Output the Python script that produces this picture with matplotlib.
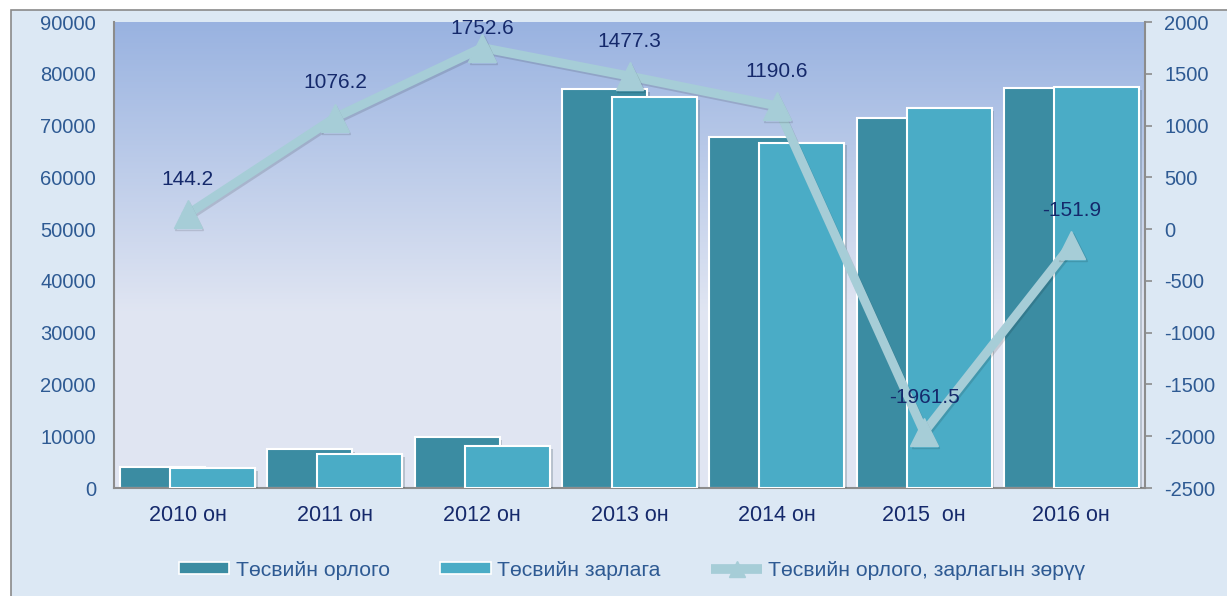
import matplotlib
matplotlib.use("Agg")
import matplotlib.pyplot as plt
import matplotlib.patheffects as pe
from matplotlib.lines import Line2D
from matplotlib.patches import Patch, Rectangle
import numpy as np

plt.rcParams["font.family"] = ["Liberation Sans", "DejaVu Sans"]
plt.rcParams["axes.unicode_minus"] = False

years = ["2010 он", "2011 он", "2012 он", "2013 он", "2014 он", "2015  он", "2016 он"]
revenue = [4050, 7550, 9850, 77050, 67850, 71450, 77250]
expense = [3850, 6550, 8100, 75550, 66700, 73400, 77450]
balance = [144.2, 1076.2, 1752.6, 1477.3, 1190.6, -1961.5, -151.9]
balance_labels = ["144.2", "1076.2", "1752.6", "1477.3", "1190.6", "-1961.5", "-151.9"]

c_dark = "#3B8CA2"
c_light = "#4AACC6"
c_line = "#A6CDD7"
c_tick = "#2E5A93"
c_text = "#15296B"

fig = plt.figure(figsize=(12.27, 5.96), dpi=100, facecolor="white")
fig.add_artist(Rectangle((11 / 1227, -0.01), 1.0, 1.01 - 10 / 596, transform=fig.transFigure,
                         facecolor="#DCE8F4", edgecolor="#8A8A8A", linewidth=1.2, zorder=-10))

ax = fig.add_axes([114 / 1227, 1 - 488 / 596, (1145 - 114) / 1227, (488 - 22) / 596])
ax.set_facecolor("none")

# plot-area gradient, blue at top fading to pale lavender
grad = np.linspace(0, 1, 256)[:, None]
top = np.array([0.60, 0.70, 0.88])
bot = np.array([0.88, 0.90, 0.95])
img = top + (bot - top) * np.clip(grad * 1.6, 0, 1)[..., None]
ax.imshow(img, extent=[0, 1, 0, 1], transform=ax.transAxes, aspect="auto", zorder=0)

x = np.arange(len(years))
w = 0.577
off = 0.17
shadow = [pe.SimplePatchShadow(offset=(2, -2), alpha=0.2), pe.Normal()]
b1 = ax.bar(x - off, revenue, w, color=c_dark, edgecolor="white", linewidth=1.5, zorder=2)
b2 = ax.bar(x + off, expense, w, color=c_light, edgecolor="white", linewidth=1.5, zorder=3)
for b in list(b1) + list(b2):
    b.set_path_effects(shadow)

ax.set_xlim(-0.5, len(years) - 0.5)
ax.set_ylim(0, 90000)
ax.set_yticks(np.arange(0, 90001, 10000))
ax.set_xticks(x)
ax.set_xticklabels(years, fontsize=15.5, color=c_text)
ax.tick_params(axis="y", length=0, pad=13, labelsize=14.5, labelcolor=c_tick)
ax.tick_params(axis="x", length=0, pad=12)
for s in ["top", "right"]:
    ax.spines[s].set_visible(False)
for s in ["left", "bottom"]:
    ax.spines[s].set_color("#8C8C8C")
    ax.spines[s].set_linewidth(1.5)

ax2 = ax.twinx()
ax2.set_ylim(-2500, 2000)
ax2.set_yticks(np.arange(-2500, 2001, 500))
ax2.tick_params(axis="y", length=5, width=1.2, color="#8C8C8C", pad=9,
                labelsize=14.5, labelcolor=c_tick)
for s in ["top", "left", "bottom"]:
    ax2.spines[s].set_visible(False)
ax2.spines["right"].set_color("#8C8C8C")
ax2.spines["right"].set_linewidth(1.5)

ax2.plot(x, balance, color=c_line, linewidth=6.5, marker="^", markersize=20,
         markerfacecolor=c_line, markeredgecolor=c_line, zorder=5,
         path_effects=[pe.SimpleLineShadow(offset=(1, -1.5), alpha=0.12), pe.Normal()])
for xi, v, lab in zip(x, balance, balance_labels):
    dy = 14 if v == max(balance) else 25   # top label is pulled down to stay inside the plot
    ax2.annotate(lab, (xi, v), xytext=(0, dy), textcoords="offset points",
                 ha="center", va="center", fontsize=15, color=c_text, zorder=6)

handles = [
    Patch(facecolor=c_dark, edgecolor="white", linewidth=1.2),
    Patch(facecolor=c_light, edgecolor="white", linewidth=1.2),
    Line2D([], [], color=c_line, linewidth=7, marker="^", markersize=12,
           solid_capstyle="butt"),
]
labels = ["Төсвийн орлого", "Төсвийн зарлага", "Төсвийн орлого, зарлагын зөрүү"]
fig.legend(handles, labels, loc="center", bbox_to_anchor=(0.515, 1 - 570 / 596), ncol=3,
           frameon=False, fontsize=15.2, labelcolor=c_tick, handlelength=2.4,
           handleheight=0.55, handletextpad=0.3, columnspacing=2.4)

fig.savefig("out.png", dpi=100, facecolor=fig.get_facecolor())
